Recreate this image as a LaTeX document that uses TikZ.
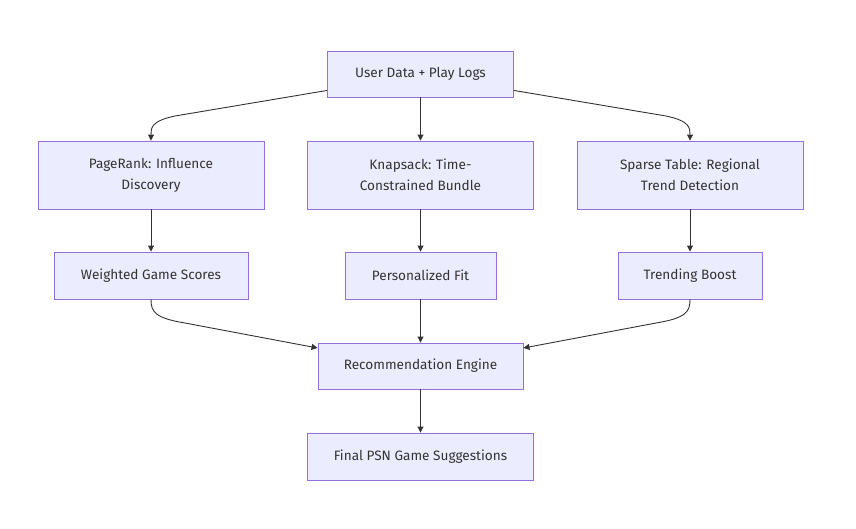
\documentclass[tikz,border=0pt]{standalone}
\usepackage{fontspec}
\setmainfont{Fira Sans}
\usetikzlibrary{arrows.meta}
\definecolor{boxfill}{HTML}{ECECFF}
\definecolor{boxline}{HTML}{9370DB}
\definecolor{arr}{HTML}{333333}
\begin{document}
\begin{tikzpicture}[x=1pt,y=-1pt,
  box/.style={draw=boxline,fill=boxfill,line width=0.9pt,inner sep=0pt,align=center,font=\fontsize{13.6}{21}\selectfont,text=arr},
  conn/.style={draw=arr,line width=0.9pt,-{Triangle[length=6pt,width=6pt]}}]
\useasboundingbox (0,0) rectangle (856,528);
\node[box,minimum width=186,minimum height=46] (u) at (420.5,74) {User Data + Play Logs};
\node[box,minimum width=226,minimum height=68] (p) at (151,175) {PageRank: Influence\\Discovery};
\node[box,minimum width=226,minimum height=68] (k) at (420.5,175) {Knapsack: Time-\\Constrained Bundle};
\node[box,minimum width=226,minimum height=68] (s) at (690,175) {Sparse Table: Regional\\Trend Detection};
\node[box,minimum width=194,minimum height=47] (w) at (151,275.5) {Weighted Game Scores};
\node[box,minimum width=151,minimum height=47] (f) at (420.5,275.5) {Personalized Fit};
\node[box,minimum width=144,minimum height=47] (t) at (690,275.5) {Trending Boost};
\node[box,minimum width=205,minimum height=46] (r) at (420.5,366) {Recommendation Engine};
\node[box,minimum width=226,minimum height=47] (g) at (420.5,456.5) {Final PSN Game Suggestions};
\draw[conn] (u.south west) ++(0,-7) -- (175,116) .. controls (151,121) and (151,128) .. (p.north);
\draw[conn] (u.south east) ++(0,-7) -- (666,116) .. controls (690,121) and (690,128) .. (s.north);
\draw[conn] (u) -- (k);
\draw[conn] (p) -- (w);
\draw[conn] (k) -- (f);
\draw[conn] (s) -- (t);
\draw[conn] (w.south) .. controls (151,312) and (155,318) .. (185,323) -- (r.west |- 0,348);
\draw[conn] (t.south) .. controls (690,312) and (686,318) .. (656,323) -- (r.east |- 0,348);
\draw[conn] (f) -- (r);
\draw[conn] (r) -- (g);
\end{tikzpicture}
\end{document}
